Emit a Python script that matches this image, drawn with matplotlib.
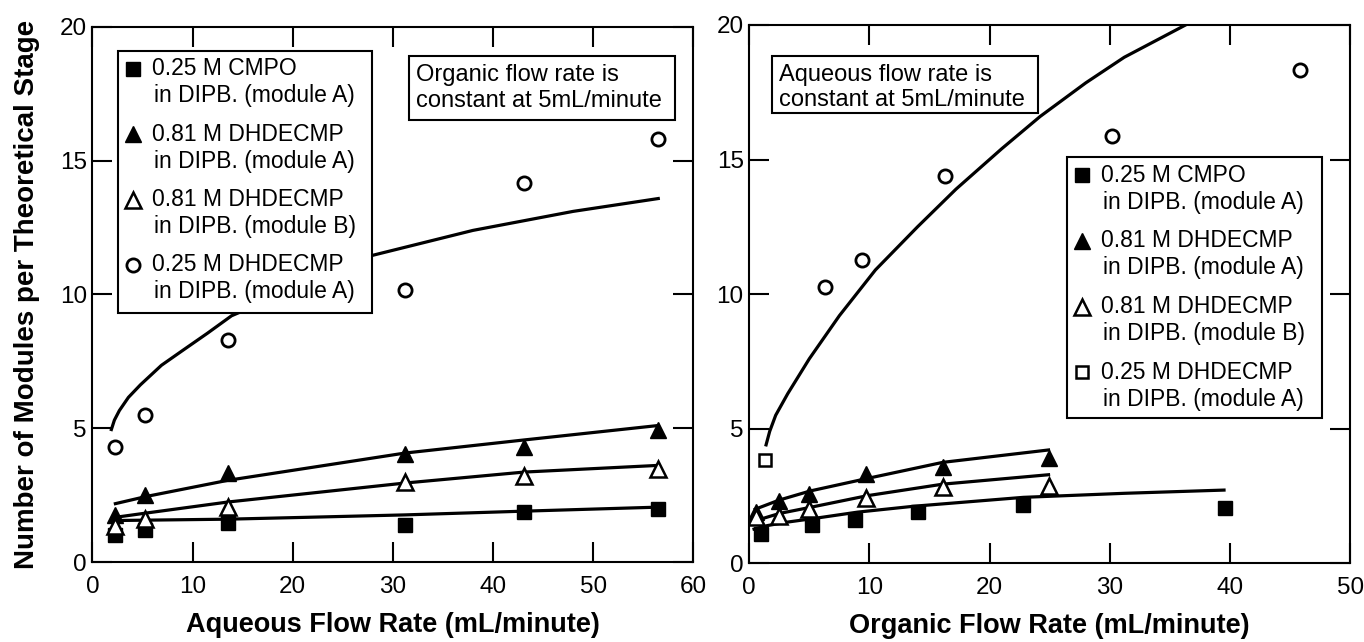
import matplotlib
matplotlib.use("Agg")
import matplotlib.pyplot as plt
from matplotlib.patches import Rectangle

plt.rcParams['font.family'] = ['Liberation Sans', 'DejaVu Sans']

# ---- left panel: aqueous flow varied, organic fixed at 5 mL/min ----
aq_flow = [2.3, 5.3, 13.5, 31.2, 43.1, 56.5]
aq_cmpo = [1.02, 1.20, 1.45, 1.40, 1.86, 1.99]
aq_dhd081_a = [1.74, 2.49, 3.32, 4.04, 4.29, 4.92]
aq_dhd081_b = [1.33, 1.61, 2.07, 2.98, 3.23, 3.48]
aq_dhd025_a = [4.29, 5.51, 8.31, 10.18, 14.16, 15.82]

# fitted curves (left)
aq_fit_cmpo_x = [2.3, 13.5, 21.4, 31.2, 43.1, 56.5]
aq_fit_cmpo_y = [1.55, 1.60, 1.67, 1.76, 1.90, 2.05]
aq_fit_a_x = [2.3, 5.4, 13.5, 31.2, 43.1, 56.5]
aq_fit_a_y = [2.18, 2.45, 3.05, 4.07, 4.56, 5.10]
aq_fit_b_x = [2.3, 5.2, 13.5, 31.2, 43.1, 56.5]
aq_fit_b_y = [1.67, 1.82, 2.24, 2.95, 3.36, 3.61]
aq_fit_c_x = [1.9, 2.2, 2.7, 3.6, 4.8, 6.9, 9.0, 11.5, 13.9, 28.0, 38.0, 48.0, 56.5]
aq_fit_c_y = [4.95, 5.30, 5.66, 6.15, 6.62, 7.35, 7.90, 8.55, 9.20, 11.46, 12.39, 13.10, 13.58]

# ---- right panel: organic flow varied, aqueous fixed at 5 mL/min ----
org_flow_sq = [1.0, 5.2, 8.8, 14.0, 22.8, 39.6]
org_cmpo = [1.07, 1.42, 1.62, 1.89, 2.16, 2.04]
org_flow_tri = [0.6, 2.5, 5.0, 9.7, 16.1, 24.9]
org_dhd081_a = [1.90, 2.30, 2.56, 3.33, 3.56, 3.93]
org_dhd081_b = [1.71, 1.77, 2.03, 2.41, 2.82, 2.86]
org_flow_c = [1.3, 6.3, 9.4, 16.3, 30.2, 45.8]
org_dhd025_a = [3.85, 10.27, 11.26, 14.38, 15.89, 18.31]

# fitted curves (right)
org_fit_cmpo_x = [0.4, 1.5, 3.0, 5.3, 9.0, 13.7, 22.8, 31.2, 39.5]
org_fit_cmpo_y = [1.27, 1.40, 1.52, 1.66, 1.90, 2.12, 2.45, 2.60, 2.72]
org_fit_a_x = [0.5, 2.5, 5.1, 9.8, 16.1, 24.9]
org_fit_a_y = [2.01, 2.35, 2.69, 3.15, 3.75, 4.21]
org_fit_b_x = [0.5, 2.5, 5.1, 9.8, 16.1, 24.9]
org_fit_b_y = [1.58, 1.85, 2.08, 2.51, 2.94, 3.29]
org_fit_c_x = [1.4, 1.7, 2.2, 3.2, 5.0, 7.5, 10.5, 14.0, 17.2, 21.0, 24.2, 28.0, 31.2, 36.3]
org_fit_c_y = [4.40, 4.90, 5.50, 6.30, 7.60, 9.20, 10.90, 12.50, 13.90, 15.40, 16.60, 17.85, 18.80, 20.00]

key_lines = [("0.25 M CMPO", "in DIPB. (module A)"),
             ("0.81 M DHDECMP", "in DIPB. (module A)"),
             ("0.81 M DHDECMP", "in DIPB. (module B)"),
             ("0.25 M DHDECMP", "in DIPB. (module A)")]

SQ = dict(marker='s', ms=10, mfc='black', mec='black', ls='none')
TF = dict(marker='^', ms=11, mfc='black', mec='black', ls='none')
TO = dict(marker='^', ms=11, mfc='white', mec='black', mew=1.8, ls='none')
CO = dict(marker='o', ms=9.5, mfc='white', mec='black', mew=2, ls='none')
SO = dict(marker='s', ms=9, mfc='white', mec='black', mew=1.8, ls='none')
LW = 2.3


def style_axes(ax, xmax):
    ax.set_xlim(0, xmax)
    ax.set_ylim(0, 20)
    ax.set_xticks(range(0, xmax + 1, 10))
    ax.set_yticks([0, 5, 10, 15, 20])
    ax.tick_params(direction='in', length=14.5, width=1.5, top=True, right=True,
                   labelsize=17.5)
    ax.tick_params(axis='x', pad=10)
    ax.tick_params(axis='y', pad=4)
    for s in ax.spines.values():
        s.set_linewidth(1.5)


def draw_key(ax, x0, y0, x1, y1, markers):
    ax.add_patch(Rectangle((x0, y0), x1 - x0, y1 - y0, transform=ax.transAxes,
                           fc='white', ec='black', lw=1.5, zorder=5))
    for i, (mk, (l1, l2)) in enumerate(zip(markers, key_lines)):
        yy = y1 - 0.034 - i * 0.122
        ax.plot([x0 + 0.025], [yy], transform=ax.transAxes, zorder=6,
                clip_on=False, **mk)
        ax.text(x0 + 0.056, yy, l1, transform=ax.transAxes, fontsize=16.5,
                va='center', ha='left', zorder=6)
        ax.text(x0 + 0.060, yy - 0.050, l2, transform=ax.transAxes, fontsize=16.5,
                va='center', ha='left', zorder=6)


def draw_note(ax, x0, y0, x1, y1, lines):
    ax.add_patch(Rectangle((x0, y0), x1 - x0, y1 - y0, transform=ax.transAxes,
                           fc='white', ec='black', lw=1.5, zorder=5))
    ax.text(x0 + 0.012, y1 - 0.036, lines[0], transform=ax.transAxes,
            fontsize=17, va='center', ha='left', zorder=6)
    ax.text(x0 + 0.012, y1 - 0.083, lines[1], transform=ax.transAxes,
            fontsize=17, va='center', ha='left', zorder=6)


fig = plt.figure(figsize=(13.64, 6.42), dpi=100)
ax1 = fig.add_axes([0.0677, 0.1246, 0.4406, 0.8338])
ax2 = fig.add_axes([0.5493, 0.1226, 0.4406, 0.8385])

# left panel
ax1.plot(aq_fit_cmpo_x, aq_fit_cmpo_y, color='black', lw=LW)
ax1.plot(aq_fit_a_x, aq_fit_a_y, color='black', lw=LW)
ax1.plot(aq_fit_b_x, aq_fit_b_y, color='black', lw=LW)
ax1.plot(aq_fit_c_x, aq_fit_c_y, color='black', lw=LW)
ax1.plot(aq_flow, aq_cmpo, **SQ)
ax1.plot(aq_flow, aq_dhd081_a, **TF)
ax1.plot(aq_flow, aq_dhd081_b, **TO)
ax1.plot(aq_flow, aq_dhd025_a, **CO)
style_axes(ax1, 60)
ax1.set_xlabel("Aqueous Flow Rate (mL/minute)", fontsize=19.5, fontweight='bold',
               labelpad=10)
ax1.set_ylabel("Number of Modules per Theoretical Stage", fontsize=20,
               fontweight='bold', labelpad=14)
draw_key(ax1, 0.043, 0.466, 0.465, 0.955, [SQ, TF, TO, CO])
draw_note(ax1, 0.527, 0.826, 0.969, 0.945,
          ["Organic flow rate is", "constant at 5mL/minute"])

# right panel
ax2.plot(org_fit_cmpo_x, org_fit_cmpo_y, color='black', lw=LW)
ax2.plot(org_fit_a_x, org_fit_a_y, color='black', lw=LW)
ax2.plot(org_fit_b_x, org_fit_b_y, color='black', lw=LW)
ax2.plot(org_fit_c_x, org_fit_c_y, color='black', lw=LW)
ax2.plot(org_flow_sq, org_cmpo, **SQ)
ax2.plot(org_flow_tri, org_dhd081_a, **TF)
ax2.plot(org_flow_tri, org_dhd081_b, **TO)
ax2.plot(org_flow_c[:1], org_dhd025_a[:1], **SO)
ax2.plot(org_flow_c[1:], org_dhd025_a[1:], **CO)
style_axes(ax2, 50)
ax2.set_xlabel("Organic Flow Rate (mL/minute)", fontsize=19.5, fontweight='bold',
               labelpad=10)
draw_key(ax2, 0.529, 0.269, 0.953, 0.755, [SQ, TF, TO, SO])
draw_note(ax2, 0.038, 0.837, 0.480, 0.943,
          ["Aqueous flow rate is", "constant at 5mL/minute"])

fig.savefig("out.png", dpi=100)
